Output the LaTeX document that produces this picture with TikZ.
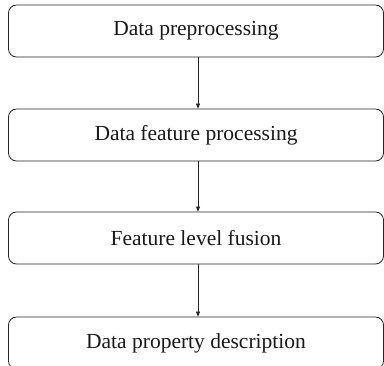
\documentclass[tikz,border=0pt]{standalone}
\usepackage{fontspec}
\setmainfont{Liberation Serif}
\usetikzlibrary{arrows.meta}
\begin{document}
\begin{tikzpicture}[x=1pt,y=-1pt,
  stagebox/.style={draw=black!85, line width=0.8pt, rounded corners=8pt,
    minimum width=375pt, minimum height=52pt, inner sep=0pt,
    font=\fontsize{21.5}{25}\selectfont, text=black!90},
  flow/.style={draw=black!85, line width=0.8pt,
    -{Triangle[length=5pt,width=4pt]}}]
  \useasboundingbox (0,0) rectangle (384,366);
  \clip (0,0) rectangle (384,366);
  \node[stagebox] (s1) at (196,31)  {Data preprocessing};
  \node[stagebox] (s2) at (196,135) {Data feature processing};
  \node[stagebox] (s3) at (196,238) {Feature level fusion};
  \node[stagebox] (s4) at (196,343) {Data property description};
  \draw[flow] ([xshift=2pt]s1.south) -- ([xshift=2pt]s2.north);
  \draw[flow] ([xshift=2pt]s2.south) -- ([xshift=2pt]s3.north);
  \draw[flow] ([xshift=2pt]s3.south) -- ([xshift=2pt]s4.north);
\end{tikzpicture}
\end{document}
